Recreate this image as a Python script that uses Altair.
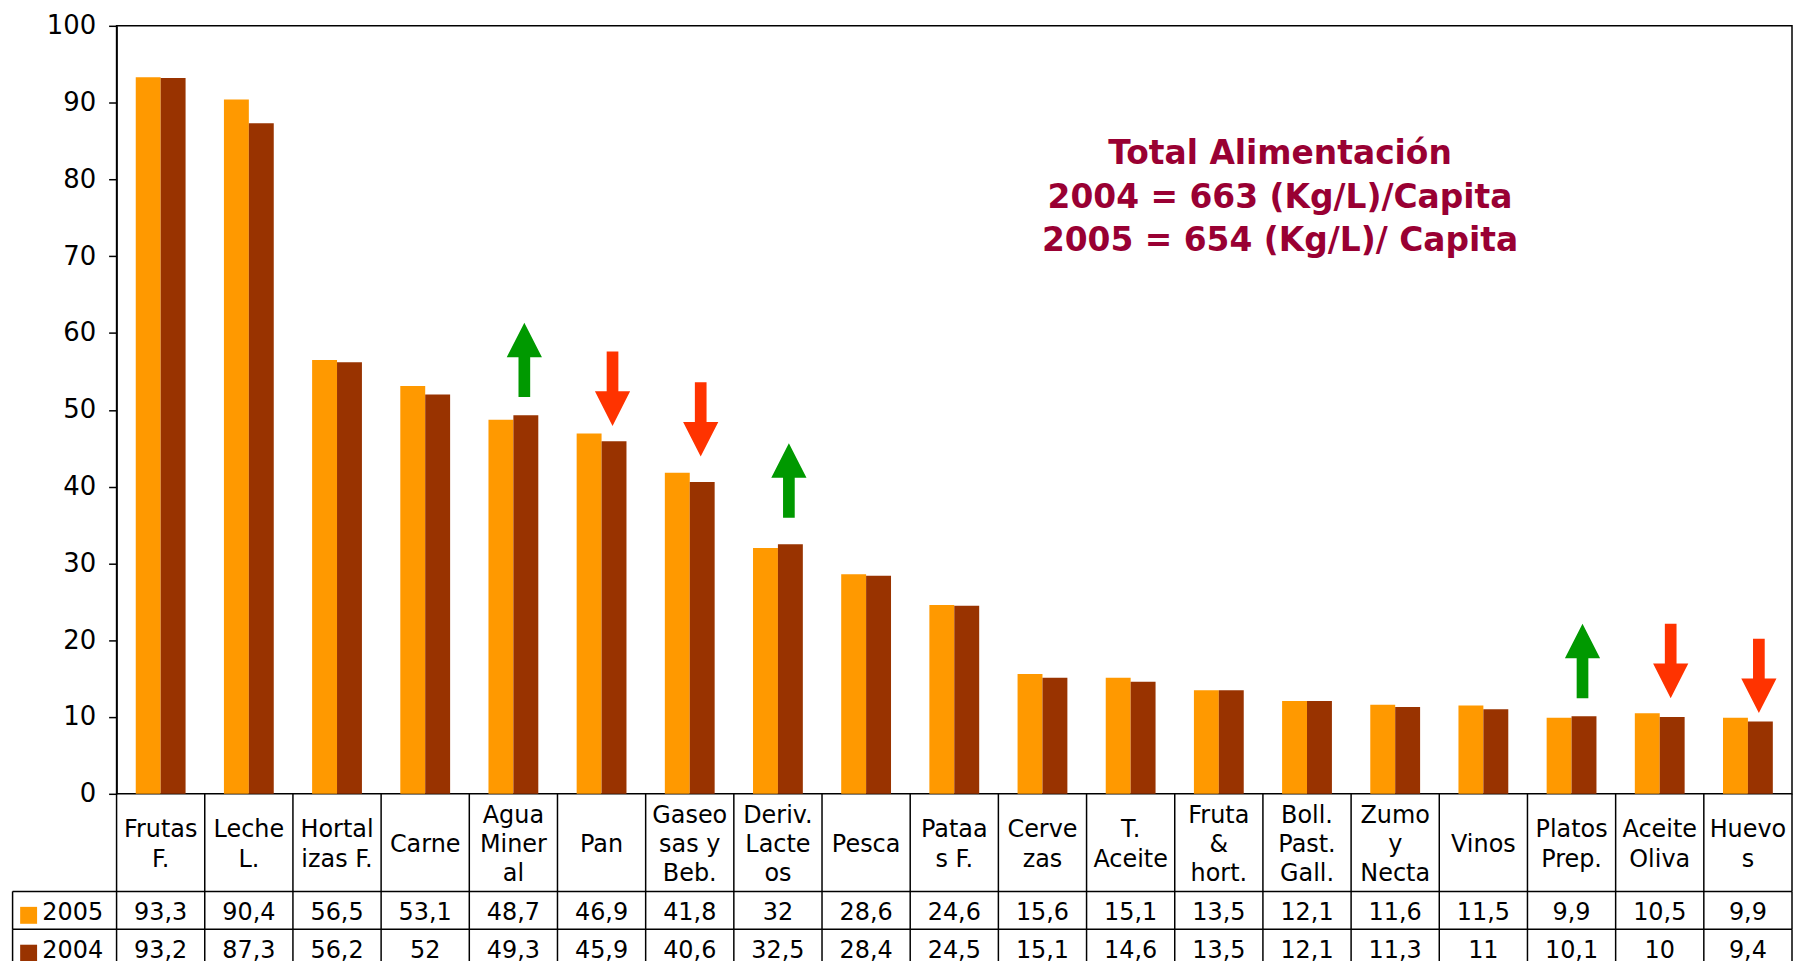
import altair as alt
import pandas as pd

# ---------------- data ----------------
categories = ["Frutas\nF.", "Leche\nL.", "Hortal\nizas F.", "Carne", "Agua\nMiner\nal", "Pan",
              "Gaseo\nsas y\nBeb.", "Deriv.\nLacte\nos", "Pesca", "Pataa\ns F.", "Cerve\nzas",
              "T.\nAceite", "Fruta\n&\nhort.", "Boll.\nPast.\nGall.", "Zumo\ny\nNecta", "Vinos",
              "Platos\nPrep.", "Aceite\nOliva", "Huevo\ns"]
values_2005 = [93.3, 90.4, 56.5, 53.1, 48.7, 46.9, 41.8, 32, 28.6, 24.6, 15.6, 15.1, 13.5, 12.1, 11.6, 11.5, 9.9, 10.5, 9.9]
values_2004 = [93.2, 87.3, 56.2, 52, 49.3, 45.9, 40.6, 32.5, 28.4, 24.5, 15.1, 14.6, 13.5, 12.1, 11.3, 11, 10.1, 10, 9.4]
years = ["2005", "2004"]
year_colors = ["#FF9900", "#993300"]

arrow_cats = ["Agua\nMiner\nal", "Pan", "Gaseo\nsas y\nBeb.", "Deriv.\nLacte\nos",
              "Platos\nPrep.", "Aceite\nOliva", "Huevo\ns"]
arrow_dir = ["up", "down", "down", "up", "up", "down", "down"]
arrow_tail = [51.7, 57.6, 53.6, 35.9, 12.4, 22.2, 20.2]
arrow_tip = [61.3, 47.9, 43.9, 45.7, 22.2, 12.4, 10.5]

title_lines = ["Total Alimentación", "2004 = 663 (Kg/L)/Capita", "2005 = 654 (Kg/L)/ Capita"]

# ---------------- tables ----------------
bars_df = pd.DataFrame({
    "cat": categories * 2,
    "year": [years[0]] * len(categories) + [years[1]] * len(categories),
    "value": values_2005 + values_2004,
})
arrows_df = pd.DataFrame({"cat": arrow_cats, "dir": arrow_dir, "tail": arrow_tail, "tip": arrow_tip})
cats_df = pd.DataFrame({"cat": categories})
one_df = pd.DataFrame({"k": [0]})

W = 1682
H = 771
LEG = 104.4
FONT = "DejaVu Sans"
LINE_W = 1.5

# ---------------- main chart ----------------
xscale_main = alt.Scale(domain=categories, paddingInner=0.435, paddingOuter=0.2175)

bars = alt.Chart(bars_df).mark_bar().encode(
    x=alt.X("cat:N", scale=xscale_main, axis=None, sort=categories),
    xOffset=alt.XOffset("year:N", sort=years,
                        scale=alt.Scale(domain=years, paddingInner=0, paddingOuter=0)),
    y=alt.Y("value:Q", scale=alt.Scale(domain=[0, 100], nice=False),
            axis=alt.Axis(values=list(range(0, 101, 10)), grid=False, title=None,
                          tickSize=8, tickColor="black", tickWidth=LINE_W,
                          domainColor="black", domainWidth=LINE_W,
                          labelFontSize=26, labelPadding=13, labelColor="black",
                          labelFont=FONT)),
    color=alt.Color("year:N", scale=alt.Scale(domain=years, range=year_colors), legend=None),
)

up_path = "M0,-1L0.473,-0.071L0.157,-0.071L0.157,1L-0.157,1L-0.157,-0.071L-0.473,-0.071Z"
down_path = "M0,1L0.473,0.071L0.157,0.071L0.157,-1L-0.157,-1L-0.157,0.071L-0.473,0.071Z"

arrows_base = alt.Chart(arrows_df).transform_calculate(mid="(datum.tail + datum.tip) / 2")
up_arrows = arrows_base.transform_filter("datum.dir == 'up'").mark_point(
    shape=up_path, size=5580, filled=True, color="#009900", opacity=1, strokeWidth=0, xOffset=11
).encode(x=alt.X("cat:N", scale=xscale_main, axis=None), y=alt.Y("mid:Q"))
down_arrows = arrows_base.transform_filter("datum.dir == 'down'").mark_point(
    shape=down_path, size=5580, filled=True, color="#FF3300", opacity=1, strokeWidth=0, xOffset=11
).encode(x=alt.X("cat:N", scale=xscale_main, axis=None), y=alt.Y("mid:Q"))

title_text = alt.Chart(one_df).mark_text(
    text=title_lines, font=FONT, fontWeight="bold", fontSize=33, color="#990033",
    lineHeight=43.5, align="center", baseline="middle"
).encode(x=alt.value(1168), y=alt.value(129))

main = alt.layer(bars, up_arrows, down_arrows, title_text).properties(
    width=W, height=H, view=alt.ViewBackground(stroke="black", strokeWidth=LINE_W)
)

# ---------------- table rows ----------------
xscale_tab = alt.Scale(domain=categories, paddingInner=0, paddingOuter=0)


def borders(h, left_ext):
    seps = alt.Chart(cats_df).mark_rule(color="black", strokeWidth=LINE_W).encode(
        x=alt.X("cat:N", scale=xscale_tab, axis=None, bandPosition=0),
        y=alt.value(0), y2=alt.value(h))
    right = alt.Chart(one_df).mark_rule(color="black", strokeWidth=LINE_W).encode(
        x=alt.value(W), y=alt.value(0), y2=alt.value(h))
    bottom = alt.Chart(one_df).mark_rule(color="black", strokeWidth=LINE_W).encode(
        x=alt.value(-LEG), x2=alt.value(W), y=alt.value(h), y2=alt.value(h))
    layers = [seps, right, bottom]
    if left_ext:
        left = alt.Chart(one_df).mark_rule(color="black", strokeWidth=LINE_W).encode(
            x=alt.value(-LEG), y=alt.value(0), y2=alt.value(h))
        layers.append(left)
    return layers


CAT_H = 98
LINE_H = 29.3
cat_text = alt.Chart(cats_df).transform_calculate(
    ny=f"{CAT_H / 2 + 2.5} - (split(datum.cat, '\\n').length - 1) * {LINE_H / 2}"
).mark_text(
    font=FONT, fontSize=24, lineBreak="\n", lineHeight=LINE_H, align="center", baseline="middle",
    color="black"
).encode(x=alt.X("cat:N", scale=xscale_tab, axis=None),
         y=alt.Y("ny:Q", scale=None, axis=None), text="cat:N")
cat_row = alt.layer(cat_text, *borders(CAT_H, False)).properties(width=W, height=CAT_H)

ROW_H = 38


def value_row(year, color):
    txt = alt.Chart(bars_df).transform_filter(alt.datum.year == year).transform_calculate(
        label="replace(toString(datum.value), '.', ',')"
    ).mark_text(font=FONT, fontSize=24, align="center", baseline="middle", color="black").encode(
        x=alt.X("cat:N", scale=xscale_tab, axis=None), y=alt.value(ROW_H / 2 + 3), text="label:N")
    sq = alt.Chart(one_df).mark_point(shape="square", filled=True, size=289, color=color,
                                      opacity=1, strokeWidth=0).encode(
        x=alt.value(-88.3), y=alt.value(ROW_H / 2 + 5))
    yr = alt.Chart(one_df).mark_text(text=year, font=FONT, fontSize=24, align="left",
                                     baseline="middle", color="black").encode(
        x=alt.value(-74.5), y=alt.value(ROW_H / 2 + 3))
    return alt.layer(txt, sq, yr, *borders(ROW_H, True)).properties(width=W, height=ROW_H)


row_2005 = value_row(years[0], year_colors[0])
row_2004 = value_row(years[1], year_colors[1])

chart = alt.vconcat(main, cat_row, row_2005, row_2004, spacing=0, bounds="flush").resolve_scale(
    x="independent"
).properties(
    padding={"left": 3, "top": 2, "right": 0, "bottom": 0}
).configure(font=FONT).configure_view(stroke=None)

chart.save("out.html", embed_options={"renderer": "svg", "actions": False})
